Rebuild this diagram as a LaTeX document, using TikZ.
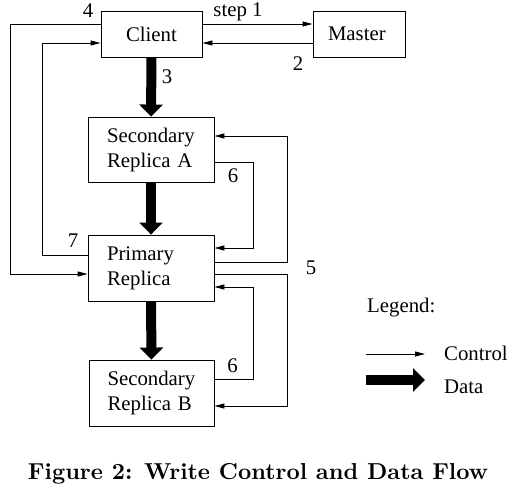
\documentclass[tikz,border=0pt]{standalone}
\usepackage{fontspec}
\newfontfamily\timesfont{Liberation Serif}
\usetikzlibrary{arrows.meta,calc}
\begin{document}
\begin{tikzpicture}[x=1pt,y=-1pt,
  box/.style={draw,line width=0.9pt,inner sep=0pt,align=left,text width=88pt,
    font=\timesfont\fontsize{20.8}{25}\selectfont},
  lbl/.style={inner sep=0pt,font=\timesfont\fontsize{20.8}{25}\selectfont},
  ctrl/.style={line width=0.9pt,-{Triangle[length=10pt,width=5pt]}},
  dataarr/.style={line width=10pt,-{Triangle[length=12pt,width=23pt]}}]
\useasboundingbox (0,0) rectangle (516,487);
% boxes
\node[box,minimum width=101pt,minimum height=46pt,text width=51pt] (client) at (151.5,34) {Client};
\node[box,minimum width=92pt,minimum height=46pt,text width=62pt] (master) at (359,34) {Master};
\node[box,minimum width=126pt,minimum height=65pt] (seca) at (151,149.5) {Secondary\\Replica A};
\node[box,minimum width=126pt,minimum height=66pt] (prim) at (151,268) {Primary\\Replica};
\node[box,minimum width=125pt,minimum height=66pt] (secb) at (151.5,393) {Secondary\\Replica B};
% helper coordinates
\coordinate (xout) at (10,0);
\coordinate (xin) at (42,0);
\coordinate (xfar) at (287,0);
\coordinate (xnear) at (253.5,0);
\coordinate (p4) at ([yshift=-6pt]prim.west);
\coordinate (c7) at ([yshift=-9pt]client.west);
\coordinate (a5) at ([yshift=13.5pt]seca.east);
\coordinate (b5) at ([yshift=-13pt]secb.east);
\coordinate (p6a) at ([yshift=20pt]prim.east);
\coordinate (p6b) at ([yshift=-19pt]prim.east);
% client <-> master
\draw[ctrl] ([yshift=10pt]client.east) -- ([yshift=10pt]master.west);
\draw[ctrl] ([yshift=-9pt]master.west) -- ([yshift=-9pt]client.east);
% data flow
\draw[dataarr] (client.south) -- (seca.north);
\draw[dataarr] (seca.south) -- (prim.north);
\draw[dataarr] (prim.south) -- (secb.north);
% 4
\draw[ctrl] ([yshift=10pt]client.west) -| (xout |- p4) -- (p4);
% 7
\draw[ctrl] ([yshift=13pt]prim.west) -| (xin |- c7) -- (c7);
% 5
\draw[ctrl] ([yshift=6pt]prim.east) -| (xfar |- a5) -- (a5);
\draw[ctrl] ([yshift=-6pt]prim.east) -| (xfar |- b5) -- (b5);
% 6
\draw[ctrl] ([yshift=-12.5pt]seca.east) -| (xnear |- p6a) -- (p6a);
\draw[ctrl] ([yshift=14pt]secb.east) -| (xnear |- p6b) -- (p6b);
% labels
\node[lbl] (l4) at (88,11) {4};
\node[lbl] (l1) at (238,12) {step 1};
\node[lbl] (l2) at (298,64) {2};
\node[lbl] (l3) at (167,77) {3};
\node[lbl] (l6a) at (233,176) {6};
\node[lbl] (l7) at (73,241) {7};
\node[lbl] (l5) at (311,268) {5};
\node[lbl] (l6b) at (232.5,366) {6};
% legend
\node[lbl,anchor=west] (leg) at (367,308) {Legend:};
\coordinate (lc1) at (366,354);
\coordinate (lc2) at (425,354);
\draw[ctrl] (lc1) -- (lc2);
\node[lbl,anchor=west] (lctrl) at (444,353) {Control};
\coordinate (ld1) at (366,380);
\coordinate (ld2) at (425,380);
\draw[dataarr] (ld1) -- (ld2);
\node[lbl,anchor=west] (ldata) at (444,387) {Data};
% caption
\node[inner sep=0pt,anchor=base] (cap) at (258,479) {\resizebox{460pt}{!}{\bfseries Figure 2: Write Control and Data Flow}};
\end{tikzpicture}
\end{document}
